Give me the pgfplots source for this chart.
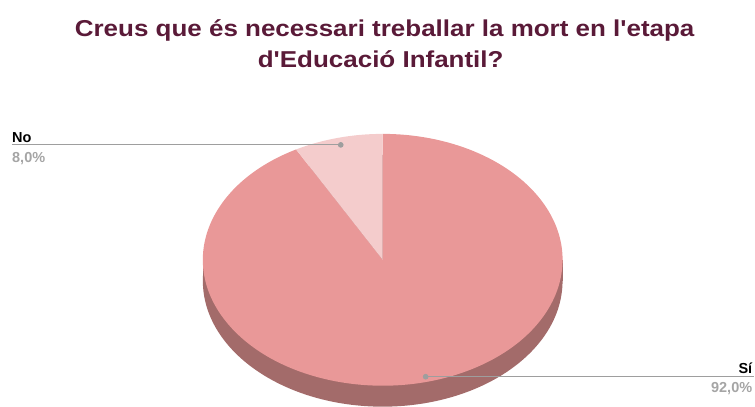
\documentclass[border=0pt]{standalone}
\usepackage{fontspec}
\setmainfont{Liberation Sans}
\newfontfamily\titlefont[FakeStretch=1.13]{Liberation Sans}
\usepackage{pgfplots}
\usepackage{pgfplotstable}
\pgfplotsset{compat=1.18}
\definecolor{titlecol}{HTML}{5A1A38}
\definecolor{bigslice}{HTML}{E99898}
\definecolor{smallslice}{HTML}{F4CCCC}
\definecolor{sidecol}{HTML}{A36B6A}
\definecolor{leadcol}{HTML}{9E9E9E}
\definecolor{pctcol}{HTML}{A5A5A5}
\pgfplotstableread{
label value
Sí 92.0
No 8.0
}\piedata
\pgfplotstablegetelem{0}{value}\of\piedata \let\valSi\pgfplotsretval
\pgfplotstablegetelem{1}{value}\of\piedata \let\valNo\pgfplotsretval
\begin{document}
\begin{tikzpicture}
\begin{axis}[
  scale only axis, width=755pt, height=407pt,
  xmin=0, xmax=755, ymin=0, ymax=407,
  hide axis, clip=false,
]
\path (axis cs:0,0) rectangle (axis cs:755,407);
\pgfmathsetmacro{\angNo}{90+\valNo*3.6}
% side of the pie (thickness 21)
\fill[sidecol] (axis cs:383,126) ellipse[x radius=180pt, y radius=126pt];
\fill[sidecol] (axis cs:203,126) rectangle (axis cs:563,147);
% top face slices
\fill[bigslice] (axis cs:383,147) -- ++(\angNo:180pt and 126pt)
   arc[start angle=\angNo, end angle=450, x radius=180pt, y radius=126pt] -- cycle;
\fill[smallslice] (axis cs:383,147) -- ++(90:180pt and 126pt)
   arc[start angle=90, end angle=\angNo, x radius=180pt, y radius=126pt] -- cycle;
% leader lines
\addplot[leadcol, line width=1.2pt, mark=*, mark size=2.2pt, mark indices={2}] coordinates {(12,262) (341,262)};
\addplot[leadcol, line width=1.2pt, mark=*, mark size=2.2pt, mark indices={1}] coordinates {(426,30) (755,30)};
% labels
\node[anchor=base west, inner sep=0pt, font=\bfseries\fontsize{14.5}{16}\selectfont] at (axis cs:12,264) {No};
\node[anchor=base west, inner sep=0pt, text=pctcol, font=\bfseries\fontsize{14.5}{16}\selectfont] at (axis cs:12,244) {8,0\%};
\node[anchor=base east, inner sep=0pt, font=\bfseries\fontsize{14.5}{16}\selectfont] at (axis cs:753,33) {Sí};
\node[anchor=base east, inner sep=0pt, text=pctcol, font=\bfseries\fontsize{14.5}{16}\selectfont] at (axis cs:753,14) {92,0\%};
% title
\node[anchor=base, inner sep=0pt, text=titlecol, font=\titlefont\bfseries\fontsize{23}{31}\selectfont] at (axis cs:385,370) {Creus que és necessari treballar la mort en l\symbol{39}etapa};
\node[anchor=base, inner sep=0pt, text=titlecol, font=\titlefont\bfseries\fontsize{23}{31}\selectfont] at (axis cs:381,339) {d\symbol{39}Educació Infantil?};
\end{axis}
\end{tikzpicture}
\end{document}
